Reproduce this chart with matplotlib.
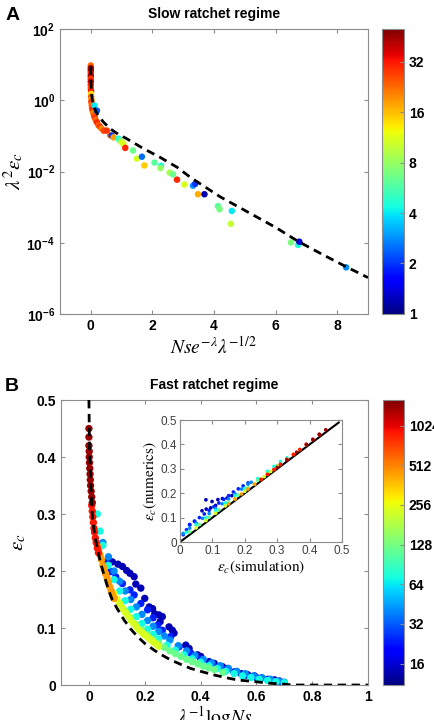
import matplotlib
matplotlib.use('Agg')
import matplotlib.pyplot as plt
from matplotlib.colors import LogNorm

plt.rcParams['font.family'] = ['Liberation Sans', 'DejaVu Sans']
plt.rcParams['mathtext.fontset'] = 'custom'
plt.rcParams['mathtext.rm'] = 'Liberation Sans'
plt.rcParams['mathtext.bf'] = 'Liberation Sans:bold'
plt.rcParams['mathtext.it'] = 'Liberation Sans:italic'

# ---------------- panel A : slow ratchet ----------------
a_theory_x = [0.0, 0.005, 0.015, 0.03, 0.06, 0.1, 0.18, 0.25, 0.4, 0.63, 0.9, 1.17, 1.71, 2.25,
              2.80, 3.23, 4.20, 5.0, 6.0, 6.75, 7.5, 8.3, 9.0]
a_theory_y = [9.0, 4.0, 2.0, 1.37, 0.9, 0.65, 0.46, 0.37, 0.25, 0.158, 0.11, 0.083, 0.044, 0.025,
              0.0132, 0.0069, 0.00195, 0.00081, 0.00027, 1.07e-4, 4.8e-5, 2.1e-5, 1.05e-5]

# points near the origin (large N)
a_stack_x = [0.0, 0.0, 0.0, 0.0, 0.0, 0.0, 0.0, 0.0, 0.0, 0.01, 0.01, 0.01, 0.02, 0.02, 0.03, 0.04,
             0.06, 0.08, 0.10, 0.13, 0.16, 0.2, 0.25, 0.3, 0.35, 0.42, 0.52, 0.63]
a_stack_y = [9.5, 8.0, 6.8, 5.7, 4.8, 4.0, 3.3, 2.7, 2.2, 1.8, 1.5, 1.25, 1.05, 0.9, 0.75, 0.62,
             0.52, 0.45, 0.38, 0.33, 0.28, 0.24, 0.2, 0.18, 0.16, 0.14, 0.141, 0.105]
a_stack_c = [22, 42, 45, 30, 44, 28, 40, 30, 26, 32, 14, 24, 18, 28, 22, 26,
             30, 20, 24, 28, 22, 30, 24, 28, 20, 26, 28, 22]

# scattered points (smaller N)
a_pts_x = [0.12, 0.2, 0.68, 0.74, 0.90, 0.95, 1.00, 1.06, 1.12, 1.37, 1.50, 1.66, 1.74, 2.07, 2.28,
           2.26, 2.56, 2.67, 2.80, 3.04, 3.32, 3.39, 3.48, 3.69, 4.13, 4.18, 4.58, 4.55, 6.50,
           6.73, 6.77, 8.29]
a_pts_y = [0.71, 0.51, 0.102, 0.091, 0.083, 0.075, 0.066, 0.060, 0.046, 0.039, 0.023, 0.026, 0.0148,
           0.0178, 0.0145, 0.0125, 0.0093, 0.0083, 0.0059, 0.0043, 0.0040, 0.0045, 0.0023, 0.0023,
           0.00107, 0.00087, 0.00078, 0.00034, 1.02e-4, 8.7e-5, 1.07e-4, 2.04e-5]
a_pts_c = [4, 2.3, 2, 18, 4.5, 6, 11, 11, 30, 6.5, 11, 2.5, 15, 6, 4.5,
           8, 8.5, 6.5, 30, 11, 2.8, 2, 17, 1.2, 6, 7, 4, 10, 7,
           4.5, 1.3, 2.8]

# ---------------- panel B : fast ratchet ----------------
b_theory_x = [0.0, 0.002, 0.006, 0.012, 0.02, 0.03, 0.04, 0.054, 0.07, 0.084, 0.10, 0.126, 0.15,
              0.174, 0.20, 0.234, 0.26, 0.293, 0.33, 0.365, 0.40, 0.449, 0.50, 0.533, 0.593, 0.65,
              0.70, 0.72, 0.75, 1.0]
b_theory_y = [0.5, 0.42, 0.36, 0.30, 0.265, 0.24, 0.218, 0.193, 0.167, 0.149, 0.135, 0.114, 0.098,
              0.085, 0.073, 0.061, 0.053, 0.044, 0.036, 0.029, 0.024, 0.0175, 0.012, 0.0088, 0.006,
              0.003, 0.0015, 0.0005, 0.0, 0.0]

b_dkred_x = [0.0, 0.0, 0.0, 0.001, 0.001, 0.002, 0.003, 0.004, 0.005, 0.006, 0.008, 0.010, 0.012]
b_dkred_y = [0.45, 0.435, 0.42, 0.41, 0.40, 0.39, 0.38, 0.37, 0.36, 0.35, 0.34, 0.33, 0.32]

b_red_x = [0.010, 0.012, 0.014, 0.016, 0.018, 0.020, 0.023, 0.026, 0.030, 0.034]
b_red_y = [0.315, 0.305, 0.295, 0.285, 0.275, 0.268, 0.258, 0.250, 0.240, 0.232]

b_orange_x = [0.03, 0.035, 0.04, 0.045, 0.05, 0.055, 0.06, 0.065, 0.07, 0.075, 0.08, 0.085, 0.09]
b_orange_y = [0.245, 0.237, 0.228, 0.22, 0.21, 0.203, 0.195, 0.188, 0.18, 0.172, 0.165, 0.158, 0.152]

b_yellow_x = [0.09, 0.10, 0.11, 0.12, 0.13, 0.14, 0.15, 0.16, 0.17, 0.18, 0.19, 0.20, 0.21, 0.22,
              0.23, 0.24, 0.25]
b_yellow_y = [0.160, 0.151, 0.143, 0.135, 0.128, 0.121, 0.114, 0.108, 0.102, 0.097, 0.092, 0.088,
              0.084, 0.080, 0.076, 0.072, 0.068]

b_green_x = [0.13, 0.15, 0.17, 0.19, 0.21, 0.23, 0.25, 0.27, 0.29, 0.31, 0.33, 0.35, 0.37, 0.39,
             0.41, 0.43, 0.45, 0.48]
b_green_y = [0.130, 0.118, 0.106, 0.096, 0.088, 0.080, 0.073, 0.066, 0.060, 0.055, 0.050, 0.045,
             0.041, 0.037, 0.033, 0.030, 0.027, 0.022]

b_cyan_x = [0.03, 0.04, 0.05, 0.07, 0.09, 0.11, 0.13, 0.15, 0.17, 0.19, 0.21, 0.23, 0.25, 0.28,
            0.31, 0.34, 0.37, 0.40, 0.43, 0.46, 0.49, 0.52, 0.55, 0.58, 0.61, 0.64, 0.67, 0.70]
b_cyan_y = [0.30, 0.27, 0.245, 0.21, 0.185, 0.165, 0.148, 0.133, 0.12, 0.108, 0.098, 0.089, 0.081,
            0.07, 0.061, 0.053, 0.046, 0.040, 0.034, 0.029, 0.024, 0.020, 0.016, 0.013, 0.010,
            0.008, 0.006, 0.004]

b_ltblue_x = [0.05, 0.07, 0.09, 0.11, 0.13, 0.15, 0.17, 0.19, 0.21, 0.23, 0.25, 0.27, 0.29, 0.32,
              0.35, 0.38, 0.41, 0.44, 0.47, 0.50, 0.53, 0.56, 0.59, 0.62, 0.65, 0.68, 0.70]
b_ltblue_y = [0.25, 0.225, 0.200, 0.182, 0.165, 0.150, 0.137, 0.124, 0.113, 0.103, 0.094, 0.086,
              0.079, 0.069, 0.060, 0.052, 0.045, 0.039, 0.034, 0.029, 0.024, 0.020, 0.016, 0.013,
              0.010, 0.007, 0.005]

b_blue_x = [0.06, 0.078, 0.096, 0.12, 0.147, 0.162, 0.186, 0.21, 0.23, 0.246, 0.263, 0.293, 0.323,
            0.365, 0.40, 0.44, 0.48, 0.52, 0.56, 0.60, 0.64, 0.68]
b_blue_y = [0.215, 0.199, 0.19, 0.178, 0.167, 0.158, 0.143, 0.132, 0.118, 0.105, 0.096, 0.085,
            0.067, 0.056, 0.045, 0.036, 0.028, 0.022, 0.017, 0.013, 0.009, 0.006]

b_dkblue_x = [0.084, 0.104, 0.120, 0.135, 0.147, 0.162, 0.168, 0.186, 0.200, 0.216, 0.228, 0.236,
              0.251, 0.263, 0.255, 0.287, 0.299, 0.305, 0.347, 0.359, 0.389, 0.401, 0.431, 0.449,
              0.479, 0.497, 0.521, 0.545, 0.569, 0.593, 0.617, 0.641, 0.665, 0.683]
b_dkblue_y = [0.216, 0.212, 0.208, 0.201, 0.196, 0.190, 0.177, 0.170, 0.152, 0.137, 0.134, 0.125,
              0.123, 0.120, 0.111, 0.102, 0.096, 0.091, 0.070, 0.064, 0.053, 0.050, 0.041, 0.038,
              0.032, 0.029, 0.023, 0.020, 0.018, 0.016, 0.012, 0.010, 0.009, 0.007]

# series colour value (population size N)
b_series = [
    (b_dkblue_x, b_dkblue_y, 14),
    (b_blue_x, b_blue_y, 24),
    (b_ltblue_x, b_ltblue_y, 40),
    (b_cyan_x, b_cyan_y, 70),
    (b_green_x, b_green_y, 120),
    (b_yellow_x, b_yellow_y, 230),
    (b_orange_x, b_orange_y, 450),
    (b_red_x, b_red_y, 900),
    (b_dkred_x, b_dkred_y, 1400),
]

# ---------------- inset : numerics vs simulation ----------------
in_line_x = [0.0, 0.49]
in_line_y = [0.0, 0.49]

in_dkred_x = [0.30, 0.33, 0.36, 0.39, 0.41, 0.43, 0.45]
in_dkred_y = [0.306, 0.337, 0.368, 0.40, 0.421, 0.442, 0.46]
in_red_x = [0.25, 0.27, 0.29, 0.31, 0.33, 0.35, 0.37, 0.39, 0.41, 0.43]
in_red_y = [0.256, 0.277, 0.297, 0.318, 0.338, 0.359, 0.379, 0.40, 0.42, 0.44]
in_orange_x = [0.15, 0.17, 0.19, 0.21, 0.23, 0.25, 0.27, 0.29, 0.31, 0.33, 0.35, 0.37, 0.39]
in_orange_y = [0.156, 0.176, 0.197, 0.217, 0.237, 0.258, 0.278, 0.298, 0.318, 0.339, 0.359, 0.379, 0.399]
in_yellow_x = [0.05, 0.08, 0.11, 0.14, 0.17, 0.20, 0.23, 0.26, 0.28, 0.30]
in_yellow_y = [0.058, 0.088, 0.118, 0.148, 0.178, 0.208, 0.238, 0.268, 0.289, 0.309]
in_green_x = [0.03, 0.06, 0.09, 0.12, 0.15, 0.18, 0.21, 0.24, 0.27, 0.30]
in_green_y = [0.042, 0.072, 0.102, 0.132, 0.162, 0.193, 0.223, 0.253, 0.283, 0.313]
in_cyan_x = [0.02, 0.05, 0.08, 0.11, 0.14, 0.17, 0.20, 0.24, 0.27, 0.29, 0.31, 0.33]
in_cyan_y = [0.04, 0.07, 0.10, 0.13, 0.16, 0.19, 0.22, 0.26, 0.29, 0.31, 0.33, 0.345]
in_ltblue_x = [0.01, 0.03, 0.05, 0.07, 0.09, 0.11, 0.13, 0.15, 0.17, 0.19, 0.21, 0.22]
in_ltblue_y = [0.035, 0.057, 0.077, 0.097, 0.117, 0.137, 0.157, 0.177, 0.197, 0.217, 0.237, 0.245]
in_blue_x = [0.0, 0.01, 0.02, 0.03, 0.045, 0.06, 0.075, 0.09, 0.105, 0.12, 0.135, 0.15, 0.165,
             0.18, 0.195, 0.21]
in_blue_y = [0.005, 0.03, 0.05, 0.072, 0.085, 0.1, 0.115, 0.13, 0.145, 0.16, 0.175, 0.19, 0.205,
             0.218, 0.23, 0.242]
in_dkblue_x = [0.03, 0.045, 0.068, 0.080, 0.081, 0.095, 0.099, 0.11, 0.117, 0.131, 0.145, 0.16]
in_dkblue_y = [0.07, 0.085, 0.128, 0.173, 0.135, 0.14, 0.166, 0.15, 0.174, 0.178, 0.18, 0.19]

in_series = [
    (in_dkblue_x, in_dkblue_y, 14),
    (in_blue_x, in_blue_y, 24),
    (in_ltblue_x, in_ltblue_y, 40),
    (in_cyan_x, in_cyan_y, 70),
    (in_green_x, in_green_y, 120),
    (in_yellow_x, in_yellow_y, 230),
    (in_orange_x, in_orange_y, 450),
    (in_red_x, in_red_y, 900),
    (in_dkred_x, in_dkred_y, 1400),
]

a_cticks = [1, 2, 4, 8, 16, 32]
b_cticks = [16, 32, 64, 128, 256, 512, 1024]

spine_col = '0.55'


def style_axes(ax, size=10, weight='bold'):
    for s in ax.spines.values():
        s.set_color(spine_col)
        s.set_linewidth(0.8)
    ax.tick_params(direction='in', top=True, right=True, color=spine_col, length=3,
                   labelsize=size, width=0.8)
    for lab in ax.get_xticklabels() + ax.get_yticklabels():
        lab.set_fontweight(weight)


fig = plt.figure(figsize=(4.34, 7.2), dpi=100)

# ---- A ----
normA = LogNorm(vmin=1, vmax=50)
axA = fig.add_axes([0.1382, 0.5639, 0.7097, 0.3958])
axA.plot(a_theory_x, a_theory_y, color='black', lw=2, dashes=(3, 2), zorder=3)
axA.scatter(a_stack_x, a_stack_y, c=a_stack_c, cmap='jet', norm=normA, s=22, linewidths=0, zorder=2)
scA = axA.scatter(a_pts_x, a_pts_y, c=a_pts_c, cmap='jet', norm=normA, s=22, linewidths=0, zorder=2)
axA.set_yscale('log')
axA.set_xlim(-1, 9)
axA.set_ylim(1e-6, 1e2)
axA.set_xticks([0, 2, 4, 6, 8])
axA.set_yticks([1e-6, 1e-4, 1e-2, 1, 1e2])
axA.set_yticklabels([r'$\mathbf{10^{-6}}$', r'$\mathbf{10^{-4}}$', r'$\mathbf{10^{-2}}$',
                     r'$\mathbf{10^{0}}$', r'$\mathbf{10^{2}}$'])
axA.minorticks_off()
style_axes(axA)
axA.set_title('Slow ratchet regime', fontsize=10, fontweight='bold', pad=8)
axA.set_xlabel(r'$Nse^{-\lambda}\lambda^{-1/2}$', fontsize=14, math_fontfamily='stix', labelpad=2)
axA.set_ylabel(r'$\lambda^2\varepsilon_c$', fontsize=15, math_fontfamily='stix', labelpad=0)
fig.text(0.012, 0.978, 'A', fontsize=14, fontweight='bold', va='center')

caxA = fig.add_axes([0.880, 0.5639, 0.0507, 0.3958])
cbA = fig.colorbar(scA, cax=caxA, ticks=a_cticks)
cbA.minorticks_off()
cbA.set_ticklabels([str(t) for t in a_cticks])
cbA.outline.set_edgecolor(spine_col)
caxA.tick_params(direction='in', color=spine_col, labelsize=10, length=3)
for lab in caxA.get_yticklabels():
    lab.set_fontweight('bold')

# ---- B ----
normB = LogNorm(vmin=11, vmax=1600)
axB = fig.add_axes([0.1406, 0.0486, 0.7074, 0.3958])
for xs, ys, cval in b_series:
    scB = axB.scatter(xs, ys, c=[cval] * len(xs), cmap='jet', norm=normB, s=28, linewidths=0, zorder=2)
axB.plot(b_theory_x, b_theory_y, color='black', lw=2, dashes=(3, 2), zorder=3)
axB.set_xlim(-0.1, 1)
axB.set_ylim(0, 0.5)
axB.set_xticks([0, 0.2, 0.4, 0.6, 0.8, 1])
axB.set_xticklabels(['0', '0.2', '0.4', '0.6', '0.8', '1'])
axB.set_yticks([0, 0.1, 0.2, 0.3, 0.4, 0.5])
axB.set_yticklabels(['0', '0.1', '0.2', '0.3', '0.4', '0.5'])
style_axes(axB)
axB.set_title('Fast ratchet regime', fontsize=10, fontweight='bold', pad=8)
axB.set_xlabel(r'$\lambda^{-1}\mathrm{log}Ns$', fontsize=14, math_fontfamily='stix', labelpad=0)
axB.set_ylabel(r'$\varepsilon_c$', fontsize=15, math_fontfamily='stix', labelpad=6)
fig.text(0.012, 0.463, 'B', fontsize=14, fontweight='bold', va='center')

caxB = fig.add_axes([0.8825, 0.0486, 0.0484, 0.3958])
cbB = fig.colorbar(scB, cax=caxB, ticks=b_cticks)
cbB.minorticks_off()
cbB.set_ticklabels([str(t) for t in b_cticks])
cbB.outline.set_edgecolor(spine_col)
caxB.tick_params(direction='in', color=spine_col, labelsize=10, length=3)
for lab in caxB.get_yticklabels():
    lab.set_fontweight('bold')

# ---- inset ----
axI = fig.add_axes([0.4147, 0.2472, 0.3733, 0.1694])
for xs, ys, cval in in_series:
    axI.scatter(xs, ys, c=[cval] * len(xs), cmap='jet', norm=normB, s=7, linewidths=0, zorder=2)
axI.plot(in_line_x, in_line_y, color='black', lw=1.5, zorder=1)
axI.set_xlim(0, 0.5)
axI.set_ylim(0, 0.5)
ticks_in = [0, 0.1, 0.2, 0.3, 0.4, 0.5]
axI.set_xticks(ticks_in)
axI.set_yticks(ticks_in)
axI.set_xticklabels(['0', '0.1', '0.2', '0.3', '0.4', '0.5'])
axI.set_yticklabels(['0', '0.1', '0.2', '0.3', '0.4', '0.5'])
style_axes(axI, size=8.5, weight='normal')
axI.tick_params(labelcolor='0.25', pad=2)
axI.set_xlabel(r'$\varepsilon_c\mathrm{(simulation)}$', fontsize=11, math_fontfamily='stix', labelpad=1)
axI.set_ylabel(r'$\varepsilon_c\mathrm{(numerics)}$', fontsize=11, math_fontfamily='stix', labelpad=1)

fig.savefig('out.png', dpi=100)
